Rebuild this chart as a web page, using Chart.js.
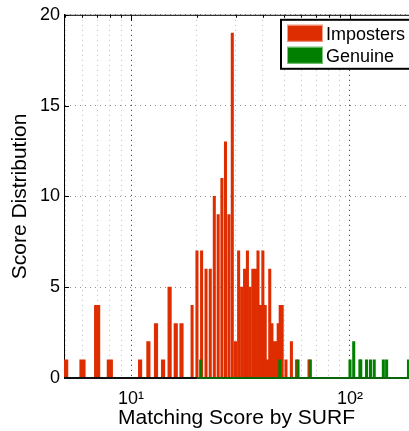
<!DOCTYPE html>
<html>
<head>
<meta charset="utf-8">
<script src="https://cdn.jsdelivr.net/npm/chart.js@4.4.1/dist/chart.umd.min.js"></script>
<style>
html, body { margin: 0; padding: 0; background: #fff; overflow: hidden; }
#wrap { width: 409px; height: 431px; }
</style>
</head>
<body>
<div id="wrap"><canvas id="grafica" width="409" height="431"></canvas></div>
<script>
// puntuaciones SURF y numero de casos en cada una
const imposterScores = [5, 6, 7, 8, 11, 12, 13, 14, 15, 16, 17, 19, 20, 21, 22, 23, 24, 25, 26, 27, 28, 29, 30,
    31, 32, 33, 34, 35, 36, 37, 38, 39, 40, 41, 42, 43, 44, 45, 46, 47, 48, 49, 51, 54, 57, 65];
const imposterCounts = [1, 1, 4, 1, 1, 2, 3, 1, 5, 3, 3, 4, 7, 7, 6, 6, 10, 9, 11, 13, 9, 19, 2,
    7, 5, 6, 7, 5, 6, 6, 7, 4, 7, 4, 1, 6, 3, 2, 2, 3, 4, 4, 1, 2, 1, 1];
const genuineScores = [20.8, 47.8, 57.9, 65.9, 100, 104, 111, 112, 119, 124, 129, 142, 147, 185];
const genuineCounts = [1, 1, 1, 1, 1, 2, 1, 1, 1, 1, 1, 1, 1, 1];

const xGridValues = [5, 6, 7, 8, 9, 10, 20, 30, 40, 50, 60, 70, 80, 90, 100];
const xTickLabels = { 10: '10\u00B9', 100: '10\u00B2' };
const yTickValues = [0, 5, 10, 15, 20];

const ROJO = '#de2d00';
const VERDE = '#007f00';
const FUENTE = 'Liberation Sans, Arial, Helvetica, sans-serif';

function puntos(scores, counts, desde, hasta) {
    let out = [];
    for (let i = 0; i < scores.length; i++) {
        if (scores[i] >= desde && scores[i] < hasta) {
            out.push({ x: scores[i], y: counts[i] });
        }
    }
    return out;
}

// marco estilo matlab: borde superior, marcas hacia dentro, linea base
const marco = {
    id: 'marco',
    afterDatasetsDraw(chart) {
        const { ctx, chartArea: a, scales: { x, y } } = chart;
        ctx.save();
        ctx.strokeStyle = '#000';
        ctx.lineWidth = 1;
        ctx.beginPath();
        ctx.moveTo(a.left, a.top + 0.5);
        ctx.lineTo(a.right, a.top + 0.5);
        for (const v of yTickValues) {
            const py = Math.round(y.getPixelForValue(v)) + 0.5;
            ctx.moveTo(a.left, py);
            ctx.lineTo(a.left + 5, py);
        }
        for (const v of xGridValues) {
            const px = Math.round(x.getPixelForValue(v)) + 0.5;
            const largo = (v === 10 || v === 100) ? 6 : 3;
            ctx.moveTo(px, a.top);
            ctx.lineTo(px, a.top + largo);
        }
        ctx.stroke();
        // linea base
        const xVerde = x.getPixelForValue(20);
        ctx.lineWidth = 2;
        ctx.beginPath();
        ctx.strokeStyle = '#111';
        ctx.moveTo(a.left, a.bottom);
        ctx.lineTo(xVerde, a.bottom);
        ctx.stroke();
        ctx.beginPath();
        ctx.strokeStyle = '#0a650a';
        ctx.moveTo(xVerde, a.bottom);
        ctx.lineTo(a.right, a.bottom);
        ctx.stroke();
        ctx.restore();
    }
};

// leyenda con caja
const leyenda = {
    id: 'leyenda',
    afterDraw(chart) {
        const { ctx, chartArea: a } = chart;
        const items = [
            { text: 'Imposters', color: ROJO, borde: '#f0a08a' },
            { text: 'Genuine', color: VERDE, borde: '#7cc47c' }
        ];
        const x0 = a.right - 128;
        const y0 = a.top + 5;
        ctx.save();
        ctx.fillStyle = '#fff';
        ctx.fillRect(x0, y0, 140, 49);
        ctx.strokeStyle = '#000';
        ctx.lineWidth = 2;
        ctx.strokeRect(x0, y0, 140, 49);
        ctx.font = '18px ' + FUENTE;
        ctx.textBaseline = 'alphabetic';
        items.forEach((it, i) => {
            const sy = y0 + 5 + i * 22;
            ctx.fillStyle = it.color;
            ctx.fillRect(x0 + 6, sy, 36, 17);
            ctx.strokeStyle = it.borde;
            ctx.lineWidth = 1;
            ctx.strokeRect(x0 + 6.5, sy + 0.5, 35, 16);
            ctx.fillStyle = '#000';
            ctx.fillText(it.text, x0 + 45, sy + 15);
        });
        ctx.restore();
    }
};

const fuenteTicks = { family: FUENTE, size: 18 };
const fuenteTitulo = { family: FUENTE, size: 21 };

const config = {
    type: 'bar',
    data: {
        datasets: [
            { label: 'Genuine', data: puntos(genuineScores, genuineCounts, 0, 1000), backgroundColor: VERDE, barThickness: 2.4, stack: 's' },
            { label: 'Imposters', data: puntos(imposterScores, imposterCounts, 0, 10), backgroundColor: ROJO, barThickness: 5.5, stack: 's' },
            { label: 'Imposters', data: puntos(imposterScores, imposterCounts, 10, 18.5), backgroundColor: ROJO, barThickness: 3.5, stack: 's' },
            { label: 'Imposters', data: puntos(imposterScores, imposterCounts, 18.5, 1000), backgroundColor: ROJO, barThickness: 2.4, stack: 's' }
        ]
    },
    options: {
        responsive: false,
        animation: false,
        devicePixelRatio: 1,
        layout: { padding: { top: 13, left: 0, right: 0, bottom: 0 } },
        plugins: { legend: { display: false }, tooltip: { enabled: false } },
        scales: {
            x: {
                type: 'logarithmic',
                min: 4.94,
                max: 186,
                offset: false,
                afterBuildTicks: (scale) => {
                    scale.ticks = xGridValues.map(v => ({ value: v }));
                },
                afterFit: (scale) => { scale.height = 53; },
                ticks: {
                    autoSkip: false, maxRotation: 0, minRotation: 0, padding: 10,
                    color: '#000', font: fuenteTicks,
                    callback: (v) => xTickLabels[v] || ''
                },
                grid: {
                    offset: false, drawTicks: false, lineWidth: 1,
                    color: (c) => (c.tick && (c.tick.value === 10 || c.tick.value === 100)) ? '#222' : '#bdbdbd'
                },
                border: { display: false, dash: [1, 4] },
                title: { display: true, text: 'Matching Score by SURF', color: '#000', font: fuenteTitulo, padding: { top: 0, bottom: 0 } }
            },
            y: {
                min: 0,
                max: 20,
                afterFit: (scale) => { scale.width = 64; },
                ticks: { stepSize: 5, padding: 4, color: '#000', font: fuenteTicks },
                grid: { drawTicks: false, lineWidth: 1, color: '#8a8a8a' },
                border: { display: true, color: '#000', width: 1, dash: [1, 4] },
                title: { display: true, text: 'Score Distribution', color: '#000', font: fuenteTitulo, padding: { top: 8, bottom: 0 } }
            }
        }
    },
    plugins: [marco, leyenda]
};

const myChart = new Chart(document.getElementById('grafica'), config);
</script>
</body>
</html>
